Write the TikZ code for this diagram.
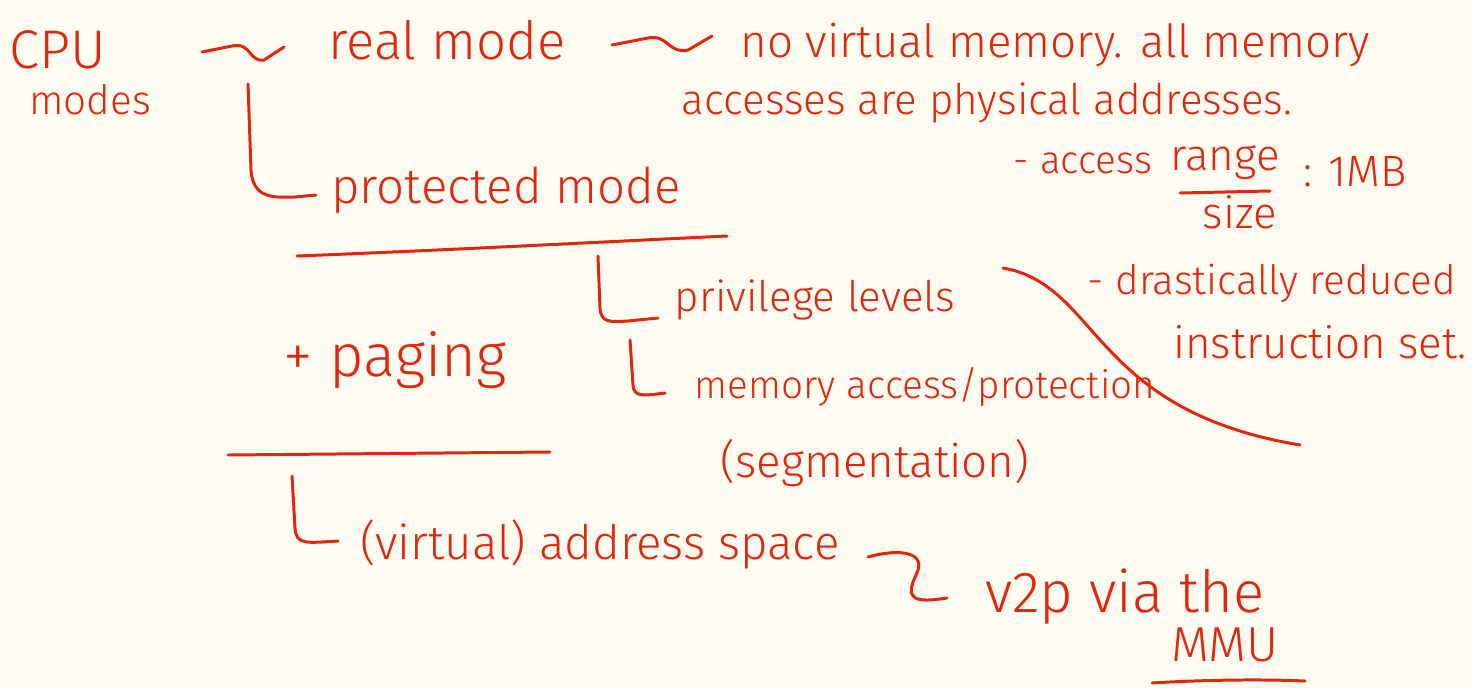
\documentclass[tikz,border=0pt]{standalone}
\usepackage{fontspec}
\setmainfont{Fira Sans Light}
\definecolor{paper}{HTML}{FEFCF0}
\definecolor{ink}{HTML}{E0260E}
\tikzset{
  note/.style={text=ink, inner sep=0pt, anchor=center, font=\fontsize{#1}{#1}\selectfont},
  note/.default=25,
  stroke/.style={draw=ink, line width=1.7pt, line cap=round, line join=round},
}
\begin{document}
\begin{tikzpicture}[x=0.02cm,y=-0.02cm]
        % paper
        \fill[paper] (0,0) rectangle (1472,687);
        \useasboundingbox (0,0) rectangle (1472,687);
        % texts
        \node[note=31] (cpu)      at (58,50)    {CPU};
        \node[note=23] (modes)    at (90,100)   {modes};
        \node[note=30] (real)     at (447,40)   {real mode};
        \node[note=26] (nvm)      at (1055,45)  {no virtual memory. all memory};
        \node[note=24] (phys)     at (987,103)  {accesses are physical addresses.};
        \node[note=22] (access)   at (1083,163) {- access};
        \node[note]    (range)    at (1225,163) {range};
        \node[note]    (size)     at (1240,212) {size};
        \node[note]    (mb)       at (1355,172) {: 1MB};
        \node[note=28] (prot)     at (506,190)  {protected mode};
        \node[note=24] (priv)     at (815,300)  {privilege levels};
        \node[note=22] (memacc)   at (925,387)  {memory access/protection};
        \node[note=26] (seg)      at (875,463)  {(segmentation)};
        \node[note=23] (reduced)  at (1272,283) {- drastically reduced};
        \node[note]    (instr)    at (1320,342) {instruction set.};
        \node[note=34] (paging)   at (395,360)  {+ paging};
        \node[note=27] (vas)      at (600,545)  {(virtual) address space};
        \node[note=33] (v2p)      at (1125,597) {v2p via the};
        \node[note=28] (mmu)      at (1225,645) {MMU};
        % free ends of the strokes
        \coordinate (cpuend)   at (202,52);
        \coordinate (realin)   at (284,47);
        \coordinate (realend)  at (612,45);
        \coordinate (nvmin)    at (712,36);
        \coordinate (protup)   at (248,84);
        \coordinate (protin)   at (316,195);
        \coordinate (privup)   at (598,256);
        \coordinate (privin)   at (658,318);
        \coordinate (memup)    at (630,340);
        \coordinate (memin)    at (665,393);
        \coordinate (vasup)    at (292,476);
        \coordinate (vasin)    at (338,541);
        \coordinate (vasend)   at (868,557);
        \coordinate (v2pin)    at (947,598);
        \coordinate (cutstart) at (1003,268);
        \coordinate (cutend)   at (1300,445);
        % tildes
        \draw[stroke] (cpuend) -- (232,46) .. controls (252,42) and (248,62) .. (264,60) -- (realin);
        \draw[stroke] (realend) -- (648,38) .. controls (668,34) and (668,54) .. (688,50) -- (nvmin);
        % brackets
        \draw[stroke] (protup) -- (251,170) .. controls (253,197) and (270,198) .. (295,197) -- (protin);
        \draw[stroke] (privup) -- (600,308) .. controls (601,323) and (610,322) .. (628,321) -- (privin);
        \draw[stroke] (memup) -- (633,385) .. controls (634,397) and (642,396) .. (memin);
        \draw[stroke] (vasup) -- (295,528) .. controls (296,545) and (306,543) .. (vasin);
        \draw[stroke] (vasend) .. controls (900,548) and (928,552) .. (916,575)
                               .. controls (904,600) and (915,603) .. (v2pin);
        % underlines
        \draw[stroke] (297,256) .. controls (450,250) and (600,242) .. (727,236);
        \draw[stroke] (228,455) -- (550,452);
        \draw[stroke] (1180,193) -- (1270,191);
        \draw[stroke] (1152,683) .. controls (1200,680) and (1260,679) .. (1305,681);
        % the sweeping line on the right
        \draw[stroke] (cutstart) .. controls (1100,285) and (1090,410) .. (cutend);
      \end{tikzpicture}
\end{document}
